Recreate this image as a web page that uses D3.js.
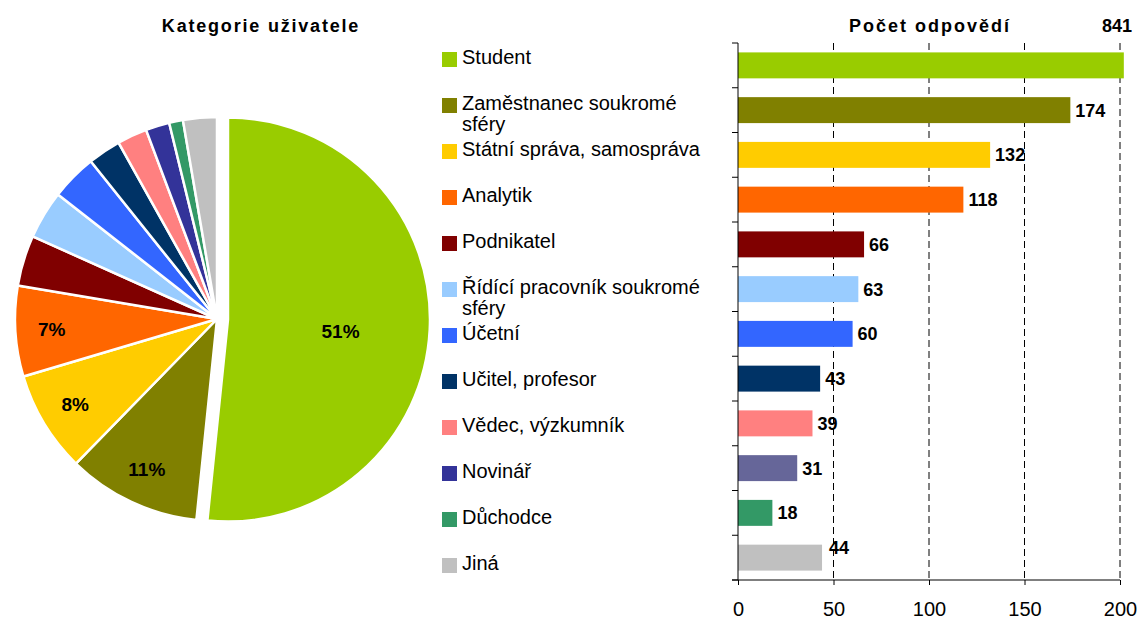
<html>
<head>
<meta charset="utf-8">
<script src="https://cdnjs.cloudflare.com/ajax/libs/d3/7.8.5/d3.min.js"></script>
<style>
body { margin: 0; background: #fff; }
text { font-family: "Liberation Sans", Arial, sans-serif; fill: #000; }
</style>
</head>
<body>
<svg id="chart" width="1142" height="619"></svg>
<script>

var categories = ["Student", "Zaměstnanec soukromé sféry", "Státní správa, samospráva", "Analytik",
  "Podnikatel", "Řídící pracovník soukromé sféry", "Účetní", "Učitel, profesor",
  "Vědec, výzkumník", "Novinář", "Důchodce", "Jiná"];
var counts = [841, 174, 132, 118, 66, 63, 60, 43, 39, 31, 18, 44];
var colors = ["#99cc00", "#808000", "#ffcc00", "#ff6600", "#800000", "#99ccff",
  "#3366ff", "#003366", "#ff8080", "#333399", "#339966", "#c0c0c0"];
var barColors = ["#99cc00", "#808000", "#ffcc00", "#ff6600", "#800000", "#99ccff",
  "#3366ff", "#003366", "#ff8080", "#666699", "#339966", "#c0c0c0"];
var pctLabels = ["51%", "11%", "8%", "7%", "", "", "", "", "", "", "", ""];
var xTicks = [0, 50, 100, 150, 200];

var svg = d3.select("#chart");
svg.append("rect").attr("width", 1142).attr("height", 619).attr("fill", "#fff");

// ---------- pie ----------
var cx = 217, cy = 319, radius = 202, explode = 11;

svg.append("text")
  .attr("x", 261).attr("y", 32)
  .attr("text-anchor", "middle")
  .style("font-size", "18px").style("font-weight", "bold").style("letter-spacing", "1.8px")
  .text("Kategorie uživatele");

var pie = d3.pie().sort(null).value(function (d) { return d; });
var arcs = pie(counts);
var arc = d3.arc().innerRadius(0).outerRadius(radius);

var pieG = svg.append("g").attr("transform", "translate(" + cx + "," + cy + ")");

var slices = pieG.selectAll("g.slice").data(arcs).enter().append("g")
  .attr("class", "slice")
  .attr("transform", function (d, i) {
    if (i !== 0) return null;
    var a = (d.startAngle + d.endAngle) / 2;
    return "translate(" + (Math.sin(a) * explode) + "," + (-Math.cos(a) * explode) + ")";
  });

slices.append("path")
  .attr("d", arc)
  .attr("fill", function (d, i) { return colors[i]; })
  .attr("stroke", "#fff")
  .attr("stroke-width", 2.5)
  .attr("stroke-linejoin", "round");

slices.append("text")
  .attr("transform", function (d, i) {
    var a = (d.startAngle + d.endAngle) / 2 + (i === 0 ? 0.05 : 0);
    var r = radius * (i === 0 ? 0.56 : 0.82);
    return "translate(" + (Math.sin(a) * r) + "," + (-Math.cos(a) * r) + ")";
  })
  .attr("text-anchor", "middle")
  .attr("dy", "0.36em")
  .style("font-size", "19px").style("font-weight", "bold")
  .text(function (d, i) { return pctLabels[i]; });

// ---------- legend ----------
var legend = svg.append("g");
var rows = legend.selectAll("g").data(categories).enter().append("g")
  .attr("transform", function (d, i) { return "translate(442," + (59.5 + i * 46) + ")"; });

rows.append("rect")
  .attr("x", 0).attr("y", -7.5).attr("width", 15).attr("height", 15)
  .attr("fill", function (d, i) { return colors[i]; });

rows.append("text")
  .attr("x", 20).attr("y", 4.5)
  .style("font-size", "20px")
  .each(function (d) {
    var t = d3.select(this);
    var words = d.split(" "), line = [];
    var tspan = t.append("tspan").attr("x", 20).attr("dy", 0);
    words.forEach(function (w) {
      line.push(w);
      tspan.text(line.join(" "));
      if (tspan.node().getComputedTextLength() > 252 && line.length > 1) {
        line.pop();
        tspan.text(line.join(" "));
        line = [w];
        tspan = t.append("tspan").attr("x", 20).attr("dy", 21).text(w);
      }
    });
  });

// ---------- bars ----------
var plotLeft = 738, plotRight = 1120, plotTop = 43, plotBottom = 580;

var x = d3.scaleLinear().domain([0, 200]).range([plotLeft, plotRight]);
var y = d3.scaleBand().domain(categories).range([plotTop, plotBottom]).paddingInner(0.42).paddingOuter(0.21);

svg.append("text")
  .attr("x", 930).attr("y", 32)
  .attr("text-anchor", "middle")
  .style("font-size", "18px").style("font-weight", "bold").style("letter-spacing", "2px")
  .text("Počet odpovědí");

// dashed grid
svg.append("g").selectAll("line").data(xTicks.slice(1)).enter().append("line")
  .attr("x1", function (d) { return x(d); }).attr("x2", function (d) { return x(d); })
  .attr("y1", plotTop).attr("y2", plotBottom)
  .attr("stroke", "#000").attr("stroke-width", 1).attr("stroke-dasharray", "7,4");

svg.append("g").selectAll("rect").data(counts).enter().append("rect")
  .attr("x", plotLeft)
  .attr("y", function (d, i) { return y(categories[i]); })
  .attr("width", function (d) { return Math.min(x(d), x(202)) - plotLeft; })
  .attr("height", y.bandwidth())
  .attr("fill", function (d, i) { return barColors[i]; });

svg.append("g").selectAll("text").data(counts).enter().append("text")
  .attr("x", function (d, i) { return d > 200 ? 1117 : x(d) + (i === counts.length - 1 ? 7 : 5); })
  .attr("y", function (d, i) {
    if (d > 200) return 32;
    return y(categories[i]) + y.bandwidth() / 2 + (i === counts.length - 1 ? -10 : 0);
  })
  .attr("dy", function (d) { return d > 200 ? 0 : "0.36em"; })
  .attr("text-anchor", function (d) { return d > 200 ? "middle" : "start"; })
  .style("font-size", "18px").style("font-weight", "bold")
  .text(function (d) { return d; });

// axes
var xAxis = svg.append("g")
  .attr("transform", "translate(0," + plotBottom + ")")
  .call(d3.axisBottom(x).tickValues(xTicks).tickSize(5).tickSizeOuter(0));
xAxis.select(".domain").attr("d", "M" + (plotLeft - 6) + ",0H" + plotRight).attr("stroke", "#000");
xAxis.selectAll(".tick line").attr("stroke", "#000");
xAxis.selectAll(".tick text")
  .attr("y", 22)
  .attr("fill", "#000")
  .style("font-size", "20px").style("font-family", "'Liberation Sans', Arial, sans-serif");

var yEdges = categories.map(function (c) { return y(c) - y.step() * y.paddingInner() / 2; });
yEdges.push(plotBottom);
var yAxis = svg.append("g");
yAxis.append("line").attr("x1", plotLeft).attr("x2", plotLeft).attr("y1", plotTop).attr("y2", plotBottom).attr("stroke", "#000");
yAxis.selectAll("line.tk").data(yEdges).enter().append("line").attr("class", "tk")
  .attr("x1", plotLeft - 6).attr("x2", plotLeft)
  .attr("y1", function (d) { return d; }).attr("y2", function (d) { return d; })
  .attr("stroke", "#000");

</script>
</body>
</html>
